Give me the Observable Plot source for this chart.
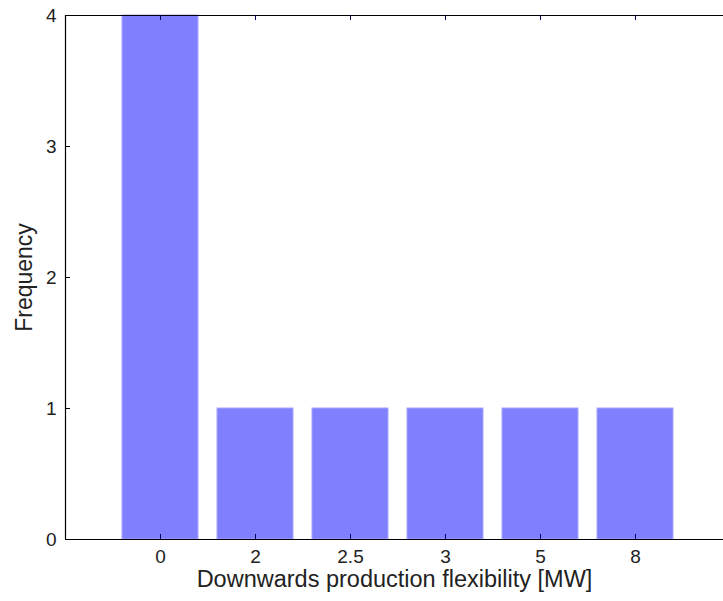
<!DOCTYPE html>
<html>
<head>
<meta charset="utf-8">
<script src="https://cdn.jsdelivr.net/npm/d3@7"></script>
<script src="https://cdn.jsdelivr.net/npm/@observablehq/plot@0.6"></script>
<style>
  html, body { margin: 0; padding: 0; background: #fff; }
  svg { display: block; }
</style>
</head>
<body>
<div id="chart"></div>
<script>
const categories = ["0", "2", "2.5", "3", "5", "8"];
const counts = [4, 1, 1, 1, 1, 1];
const yTicks = [0, 1, 2, 3, 4];
const xLabel = "Downwards production flexibility [MW]";
const yLabel = "Frequency";

const table = categories.map((c, i) => ({cat: c, pos: i + 1, count: counts[i]}));
const positions = table.map(d => d.pos);

const W = 723, H = 601;
const mL = 65, mT = 15, mB = 62;
const xMax = categories.length + 1;
const xRange = [mL, 730];
const pxX = (xRange[1] - xRange[0]) / xMax;       // px per x unit
const pxY = (H - mB - mT) / 4;                    // px per y unit
const tickLenX = 5 / pxX, tickLenY = 5 / pxY;
const barHalf = 0.4;
const font = "Arial, 'Liberation Sans', Helvetica, sans-serif";

const chart = Plot.plot({
  width: W,
  height: H,
  marginLeft: mL,
  marginRight: 0,
  marginTop: mT,
  marginBottom: mB,
  style: {fontFamily: font, fontSize: "19px", color: "#222", background: "#fff"},
  x: {domain: [0, xMax], range: xRange},
  y: {domain: [0, 4]},
  marks: [
    Plot.rectY(table, {
      x1: d => d.pos - barHalf, x2: d => d.pos + barHalf, y1: 0, y2: "count",
      fill: "#8080ff", stroke: "#a6a6ff", strokeWidth: 1
    }),
    // frame lines
    Plot.ruleY([0, 4], {x1: 0, x2: xMax, stroke: "#000", strokeWidth: 1.2}),
    Plot.ruleX([0, xMax], {y1: 0, y2: 4, stroke: "#000", strokeWidth: 1.2}),
    // inward y ticks left and right
    Plot.ruleY(yTicks, {x1: 0, x2: tickLenX, stroke: "#000"}),
    Plot.ruleY(yTicks, {x1: xMax - tickLenX, x2: xMax, stroke: "#000"}),
    // inward x ticks bottom and top
    Plot.ruleX(positions, {y1: 0, y2: tickLenY, stroke: "#00005a"}),
    Plot.ruleX(positions, {y1: 4 - tickLenY, y2: 4, stroke: "#00005a"}),
    Plot.axisY({ticks: yTicks, tickSize: 0, tickPadding: 9, fontSize: 19,
      tickFormat: d3.format("d"), label: null}),
    Plot.axisX({ticks: positions, tickSize: 0, tickPadding: 10, fontSize: 19,
      tickFormat: p => categories[p - 1], label: null}),
    Plot.text([xLabel], {frameAnchor: "bottom", textAnchor: "middle", dy: 47, fontSize: 23.5, fill: "#222"}),
    Plot.text([yLabel], {frameAnchor: "left", textAnchor: "middle", dx: -41, rotate: -90, fontSize: 23, fill: "#222"})
  ]
});
document.getElementById("chart").appendChild(chart);
</script>
</body>
</html>
